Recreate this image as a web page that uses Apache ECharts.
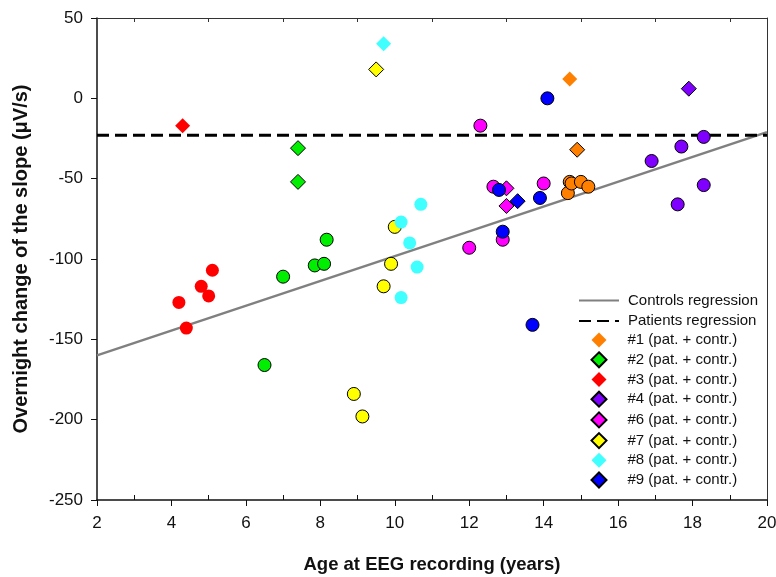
<!DOCTYPE html>
<html>
<head>
<meta charset="utf-8">
<script src="https://cdn.jsdelivr.net/npm/echarts@6/dist/echarts.min.js"></script>
<style>
    html, body { margin: 0; padding: 0; background: #fff; }
    #chart { width: 776px; height: 577px; }
</style>
</head>
<body>
<div id="chart"></div>
<script>
// group names / colours
const groupNames = ['#1 (pat. + contr.)', '#2 (pat. + contr.)', '#3 (pat. + contr.)', '#4 (pat. + contr.)',
    '#6 (pat. + contr.)', '#7 (pat. + contr.)', '#8 (pat. + contr.)', '#9 (pat. + contr.)']
const groupColors = ['#ff7f00', '#00ee00', '#ff0000', '#8000ff', '#ff00ff', '#ffff00', '#40ffff', '#0000ff']
const groupBorder = [false, true, false, true, true, true, false, true]

// controls (circles), [age, change]
const ctrl1 = [[14.65, -59], [14.7, -52], [14.75, -53], [15.0, -52], [15.2, -55]]
const ctrl2 = [[6.5, -166], [7.0, -111], [7.85, -104], [8.1, -103], [8.17, -88]]
const ctrl3 = [[4.2, -127], [4.4, -143], [4.8, -117], [5.0, -123], [5.1, -107]]
const ctrl4 = [[16.9, -39], [17.6, -66], [17.7, -30], [18.3, -24], [18.3, -54]]
const ctrl6 = [[12.0, -93], [12.3, -17], [12.65, -55], [12.9, -88], [14.0, -53]]
const ctrl7 = [[8.9, -184], [9.13, -198], [9.7, -117], [9.9, -103], [10.0, -80]]
const ctrl8 = [[10.17, -77], [10.17, -124], [10.4, -90], [10.6, -105], [10.7, -66]]
const ctrl9 = [[12.8, -57], [12.9, -83], [13.7, -141], [13.9, -62], [14.1, 0]]

// patients (diamonds)
const pat1 = [[14.7, 12], [14.9, -32]]
const pat2 = [[7.4, -31], [7.4, -52]]
const pat3 = [[4.3, -17]]
const pat4 = [[17.9, 6]]
const pat6 = [[13.0, -56], [13.0, -67]]
const pat7 = [[9.5, 18]]
const pat8 = [[9.7, 34]]
const pat9 = [[13.3, -64]]

// orange points drawn with an outline
const bordered1 = [true, true, true, true, true]
const borderedPat1 = [false, true]

// regression lines
const controlsLine = [[2, -160], [20, -21]]
const patientsLine = [[2, -23], [20, -23]]

const xTicks = { min: 2, max: 20, interval: 2 }
const yTicks = { min: -250, max: 50, interval: 50 }

const ctrlSets = [ctrl1, ctrl2, ctrl3, ctrl4, ctrl6, ctrl7, ctrl8, ctrl9]
const patSets = [pat1, pat2, pat3, pat4, pat6, pat7, pat8, pat9]

const font = 'Liberation Sans, Arial, sans-serif'

const scatterSeries = groupNames.map((name, i) => {
    const data = []
    ctrlSets[i].forEach((p, j) => {
        const item = { value: p, symbol: 'circle', symbolSize: 13 }
        if (i === 0 && bordered1[j]) item.itemStyle = { borderColor: '#000', borderWidth: 1 }
        data.push(item)
    })
    patSets[i].forEach((p, j) => {
        const item = { value: p, symbol: 'diamond', symbolSize: 15 }
        if (i === 0 && borderedPat1[j]) item.itemStyle = { borderColor: '#000', borderWidth: 1 }
        data.push(item)
    })
    return {
        name: name,
        type: 'scatter',
        symbol: 'diamond',
        z: 5,
        itemStyle: {
            color: groupColors[i],
            opacity: 1,
            borderColor: '#000',
            borderWidth: groupBorder[i] ? 1 : 0
        },
        data: data
    }
})

const legendText = { fontSize: 15, color: '#111', fontFamily: font }

const chart = echarts.init(document.getElementById('chart'))
chart.setOption({
    animation: false,
    textStyle: { fontFamily: font },
    grid: { left: 97, right: 9, top: 18, bottom: 77, outerBoundsMode: 'none', containLabel: false },
    legend: [
        {
            // regression lines (hide the default circle)
            orient: 'vertical',
            left: 578,
            top: 293,
            padding: 0,
            itemWidth: 40,
            itemHeight: 15,
            itemGap: 5.5,
            textStyle: Object.assign({ padding: [0, 0, 0, 4] }, legendText),
            data: [
                { name: 'Controls regression', itemStyle: { opacity: 0 } },
                { name: 'Patients regression', itemStyle: { opacity: 0 } }
            ]
        },
        {
            orient: 'vertical',
            left: 590.5,
            top: 332.6,
            padding: 0,
            itemWidth: 15,
            itemHeight: 15,
            itemGap: 3.7,
            textStyle: Object.assign({ padding: [0, 0, 0, 16] }, legendText),
            data: groupNames
        }
    ],
    xAxis: [
        {
            type: 'value',
            min: xTicks.min,
            max: xTicks.max,
            interval: xTicks.interval,
            position: 'bottom',
            name: 'Age at EEG recording (years)',
            nameLocation: 'middle',
            nameGap: 55,
            nameTextStyle: { fontSize: 18.5, fontWeight: 'bold', color: '#111' },
            axisLine: { onZero: false, lineStyle: { color: '#111', width: 1.5 } },
            axisTick: { show: true, length: 6, lineStyle: { color: '#111' } },
            minorTick: { show: true, splitNumber: 2, length: -5, lineStyle: { color: '#111' } },
            axisLabel: { fontSize: 17, color: '#111', margin: 15 },
            splitLine: { show: false }
        },
        {
            type: 'value',
            min: xTicks.min,
            max: xTicks.max,
            interval: xTicks.interval,
            position: 'top',
            axisLine: { onZero: false, lineStyle: { color: '#333', width: 1 } },
            axisTick: { show: false },
            minorTick: { show: true, splitNumber: 2, length: -4, lineStyle: { color: '#333' } },
            axisLabel: { show: false },
            splitLine: { show: false }
        }
    ],
    yAxis: [
        {
            type: 'value',
            min: yTicks.min,
            max: yTicks.max,
            interval: yTicks.interval,
            position: 'left',
            name: 'Overnight change of the slope (μV/s)',
            nameLocation: 'middle',
            nameGap: 66,
            nameTextStyle: { fontSize: 20, fontWeight: 'bold', color: '#111' },
            axisLine: { onZero: false, lineStyle: { color: '#111', width: 1.5 } },
            axisTick: { show: true, length: 6, lineStyle: { color: '#111' } },
            axisLabel: { fontSize: 17, color: '#111', margin: 14 },
            splitLine: { show: false }
        },
        {
            type: 'value',
            min: yTicks.min,
            max: yTicks.max,
            interval: yTicks.interval,
            position: 'right',
            axisLine: { onZero: false, lineStyle: { color: '#333', width: 1 } },
            axisTick: { show: false },
            axisLabel: { show: false },
            splitLine: { show: false }
        }
    ],
    series: [
        {
            name: 'Controls regression',
            type: 'line',
            symbol: 'none',
            z: 2,
            color: '#808080',
            lineStyle: { color: '#808080', width: 2.5 },
            data: controlsLine
        },
        {
            name: 'Patients regression',
            type: 'line',
            symbol: 'none',
            z: 3,
            color: '#000',
            lineStyle: { color: '#000', width: 3, type: [12, 6] },
            data: patientsLine
        }
    ].concat(scatterSeries)
})
</script>
</body>
</html>
